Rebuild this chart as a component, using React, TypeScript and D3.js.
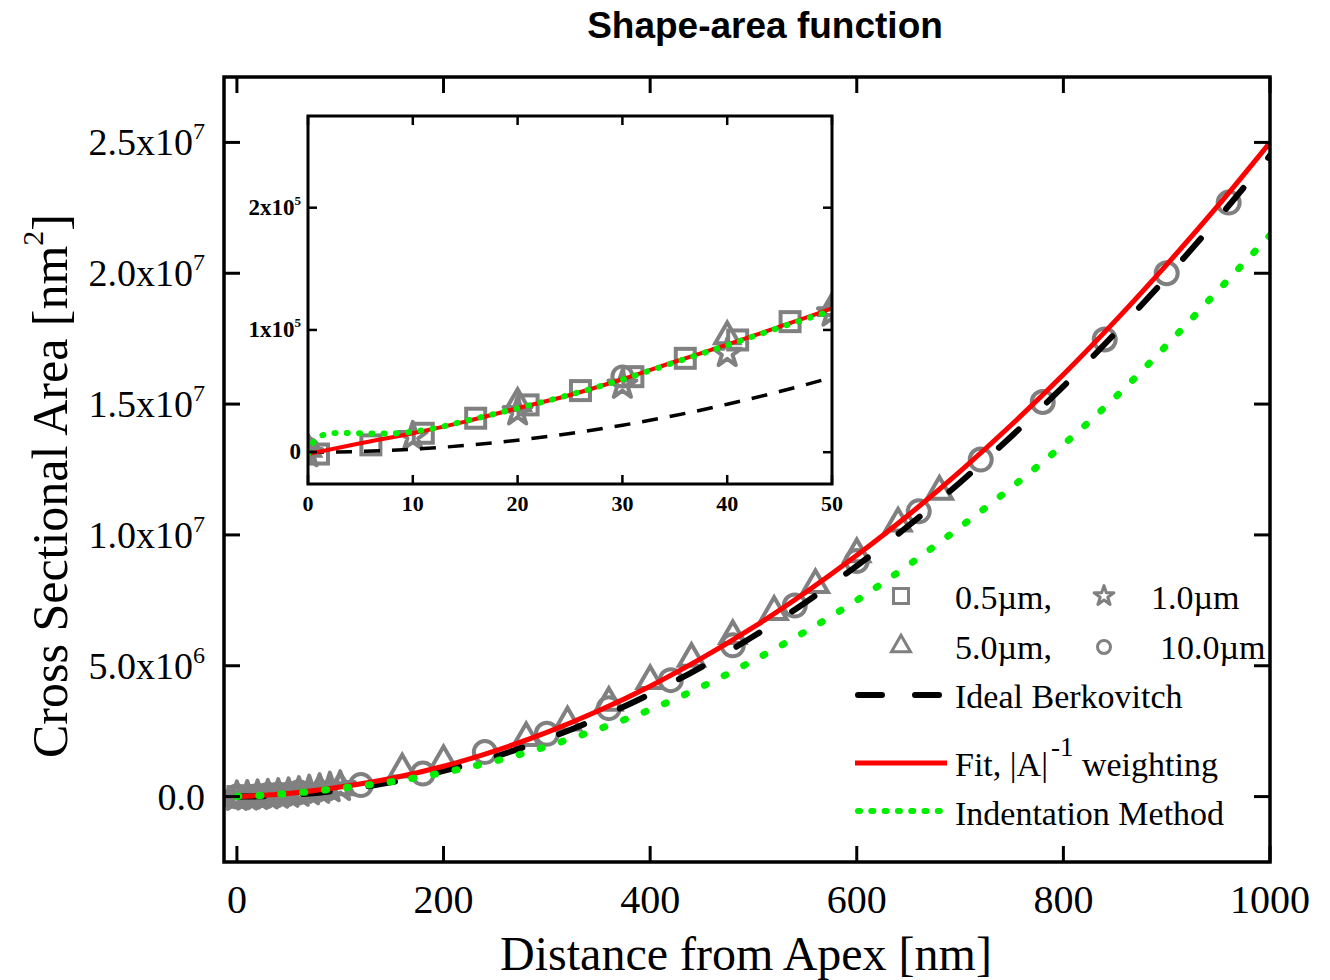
import React from "react";
import * as d3 from "d3";

// ---------- data (h in nm, A in nm^2) ----------
const berkH = [0, 5, 10, 15, 20, 25, 30, 35, 40, 45, 50, 100, 150, 200, 250, 300, 350, 400, 450, 500, 550, 600, 650, 700, 750, 800, 850, 900, 950, 1000];
const berkA = [0, 612, 2450, 5512, 9800, 15312, 22050, 30012, 39200, 49612, 61250, 245000, 551250, 980000, 1531250, 2205000, 3001250, 3920000, 4961250, 6125000, 7411250, 8820000, 10351250, 12005000, 13781250, 15680000, 17701250, 19845000, 22111250, 24500000];

const fitH = [0, 5, 10, 15, 20, 25, 30, 35, 40, 45, 50, 100, 150, 200, 250, 300, 350, 400, 450, 500, 550, 600, 650, 700, 750, 800, 850, 900, 950, 1000];
const fitA = [-1400, 7300, 15500, 25000, 36000, 46800, 59700, 74000, 88000, 102700, 117700, 365000, 700000, 1160000, 1750000, 2455000, 3280000, 4220000, 5290000, 6475000, 7790000, 9220000, 10760000, 12430000, 14220000, 16130000, 18170000, 20330000, 22600000, 25000000];

const indH = [0, 0.5, 1, 2, 3, 5, 7, 9, 10, 12, 15, 20, 25, 30, 35, 40, 45, 50, 100, 150, 200, 250, 300, 350, 400, 450, 500, 550, 600, 650, 700, 750, 800, 850, 900, 950, 1000];
const indA = [-1500, 8000, 12500, 15000, 15800, 15500, 15200, 15800, 16800, 19500, 25500, 36000, 47000, 59500, 73500, 87500, 102000, 116000, 320000, 570000, 920000, 1360000, 1920000, 2580000, 3320000, 4200000, 5200000, 6300000, 7500000, 8850000, 10300000, 11820000, 13450000, 15250000, 17250000, 19350000, 21450000];

const sqH = [1, 6, 11, 16, 21, 26, 31, 36, 41, 46];
const sqA = [-1500, 6000, 15500, 27800, 38700, 50400, 61800, 76800, 91800, 106800];
const starH = [0, 10, 20, 30, 40, 50, 60, 70, 80, 90, 100];
const starA = [-1000, 12800, 33200, 55000, 81000, 114000, 160000, 215000, 270000, 330000, 380000];
const triH = [0, 20, 40, 50, 80, 100, 160, 200, 280, 320, 360, 400, 440, 480, 520, 560, 600, 640, 680];
const triA = [4000, 41400, 96000, 119000, 290000, 420000, 1100000, 1420000, 2300000, 2900000, 3650000, 4480000, 5330000, 6200000, 7120000, 8150000, 9330000, 10500000, 11720000];
const circH = [0, 30, 60, 120, 180, 240, 300, 360, 420, 480, 540, 600, 660, 720, 780, 840, 900, 960];
const circA = [3000, 62000, 170000, 440000, 880000, 1700000, 2400000, 3380000, 4450000, 5780000, 7300000, 9000000, 10900000, 12880000, 15080000, 17470000, 20000000, 22700000];

const xTicks = [0, 200, 400, 600, 800, 1000];
const yTicks = [0, 5e6, 1e7, 1.5e7, 2e7, 2.5e7];
const yTickMant = ["0.0", "5.0x10", "1.0x10", "1.5x10", "2.0x10", "2.5x10"];
const yTickExp = ["", "6", "7", "7", "7", "7"];
const insetXTicks = [0, 10, 20, 30, 40, 50];
const insetYTicks = [0, 1e5, 2e5];
const insetYMant = ["0", "1x10", "2x10"];
const insetYExp = ["", "5", "5"];

const GRAY = "#808080";
const SERIF = "'Liberation Serif', 'Times New Roman', serif";
const SANS = "'Liberation Sans', Arial, sans-serif";

type Kind = "square" | "star" | "triangle" | "circle";

function Marker({ kind, x, y, s, sw }: { kind: Kind; x: number; y: number; s: number; sw: number }) {
  const common = { fill: "none", stroke: GRAY, strokeWidth: sw };
  if (kind === "square") return <rect x={x - s / 2} y={y - s / 2} width={s} height={s} {...common} />;
  if (kind === "circle") return <circle cx={x} cy={y} r={s / 2} {...common} />;
  if (kind === "triangle") {
    const d = d3.symbol().type(d3.symbolTriangle).size((s * s * Math.sqrt(3)) / 4)() as string;
    return <path d={d} transform={`translate(${x},${y + s * 0.06})`} {...common} strokeLinejoin="miter" />;
  }
  const d = d3.symbol().type(d3.symbolStar).size(s * s * 0.42)() as string;
  return <path d={d} transform={`translate(${x},${y})`} {...common} strokeLinejoin="round" />;
}

export default function App() {
  const mx = d3.scaleLinear().domain([-12.5, 1000]).range([224, 1270]);
  const my = d3.scaleLinear().domain([-2.5e6, 2.75e7]).range([862, 77]);
  const ix = d3.scaleLinear().domain([0, 50]).range([308, 832]);
  const iy = d3.scaleLinear().domain([-0.26e5, 2.75e5]).range([484, 116]);

  const mkLine = (sx: any, sy: any, H: number[], A: number[]) =>
    d3.line<number>().x((_, i) => sx(H[i])).y((_, i) => sy(A[i])).curve(d3.curveMonotoneX)(H) as string;

  const series: { kind: Kind; H: number[]; A: number[] }[] = [
    { kind: "square", H: sqH, A: sqA },
    { kind: "star", H: starH, A: starA },
    { kind: "triangle", H: triH, A: triA },
    { kind: "circle", H: circH, A: circA },
  ];

  const [mL, mR] = mx.range();
  const [mB, mT] = my.range();
  const [iL, iR] = ix.range();
  const [iB, iT] = iy.range();

  return (
    <svg width={1330} height={980} style={{ position: "absolute", left: 0, top: 0, background: "#fff" }}>
      <defs>
        <clipPath id="mainClip">
          <rect x={mL} y={mT} width={mR - mL} height={mB - mT} />
        </clipPath>
        <clipPath id="insetClip">
          <rect x={iL} y={iT} width={iR - iL} height={iB - iT} />
        </clipPath>
      </defs>
      <rect x={0} y={0} width={1330} height={980} fill="#fff" />

      {/* title */}
      <text x={765} y={38} textAnchor="middle" fontFamily={SANS} fontWeight="bold" fontSize={37}>
        Shape-area function
      </text>

      {/* main plot content */}
      <g clipPath="url(#mainClip)">
        {series.map((s) =>
          s.H.map((h, i) => <Marker key={s.kind + i} kind={s.kind} x={mx(h)} y={my(s.A[i])} s={s.kind === "circle" ? 22 : s.kind === "square" ? 19 : 25} sw={4} />)
        )}
        <path d={mkLine(mx, my, berkH, berkA)} fill="none" stroke="#000" strokeWidth={6} strokeDasharray="27,39" strokeLinecap="round" />
        <path d={mkLine(mx, my, fitH, fitA)} fill="none" stroke="#ff0000" strokeWidth={5} />
        <path d={mkLine(mx, my, indH, indA)} fill="none" stroke="#00ee00" strokeWidth={7} strokeDasharray="2,20" strokeLinecap="round" />
      </g>

      {/* main frame & ticks */}
      <rect x={mL} y={mT} width={mR - mL} height={mB - mT} fill="none" stroke="#000" strokeWidth={3.5} />
      {xTicks.map((t) => (
        <g key={"xt" + t}>
          <line x1={mx(t)} x2={mx(t)} y1={mB} y2={mB - 16} stroke="#000" strokeWidth={3} />
          <line x1={mx(t)} x2={mx(t)} y1={mT} y2={mT + 16} stroke="#000" strokeWidth={3} />
          <text x={mx(t)} y={913} textAnchor="middle" fontFamily={SERIF} fontSize={40}>
            {t}
          </text>
        </g>
      ))}
      {yTicks.map((t, i) => (
        <g key={"yt" + t}>
          <line x1={mL} x2={mL + 16} y1={my(t)} y2={my(t)} stroke="#000" strokeWidth={3} />
          <line x1={mR} x2={mR - 16} y1={my(t)} y2={my(t)} stroke="#000" strokeWidth={3} />
          <text x={205} y={my(t) + 13} textAnchor="end" fontFamily={SERIF} fontSize={38}>
            {yTickMant[i]}
            {yTickExp[i] && (
              <tspan fontSize={24} dy={-16}>
                {yTickExp[i]}
              </tspan>
            )}
          </text>
        </g>
      ))}

      {/* axis titles */}
      <text x={746} y={970} textAnchor="middle" fontFamily={SERIF} fontSize={48}>
        Distance from Apex [nm]
      </text>
      <text transform="translate(67,486) rotate(-90)" textAnchor="middle" fontFamily={SERIF} fontSize={50}>
        Cross Sectional Area [nm
        <tspan fontSize={30} dy={-24}>2</tspan>
        <tspan dy={24}>]</tspan>
      </text>

      {/* inset */}
      <rect x={iL} y={iT} width={iR - iL} height={iB - iT} fill="#fff" />
      <g clipPath="url(#insetClip)">
        {series.map((s) =>
          s.H.map((h, i) => <Marker key={"i" + s.kind + i} kind={s.kind} x={ix(h)} y={iy(s.A[i])} s={s.kind === "circle" ? 20 : s.kind === "square" ? 19 : 24} sw={4} />)
        )}
        <path d={mkLine(ix, iy, berkH, berkA)} fill="none" stroke="#000" strokeWidth={3.5} strokeDasharray="16,12" />
        <path d={mkLine(ix, iy, fitH, fitA)} fill="none" stroke="#ff0000" strokeWidth={4} />
        <path d={mkLine(ix, iy, indH, indA)} fill="none" stroke="#00ee00" strokeWidth={6} strokeDasharray="1,11.3" strokeLinecap="round" />
      </g>
      <rect x={iL} y={iT} width={iR - iL} height={iB - iT} fill="none" stroke="#000" strokeWidth={3} />
      {insetXTicks.map((t) => (
        <g key={"ixt" + t}>
          <line x1={ix(t)} x2={ix(t)} y1={iB} y2={iB - 9} stroke="#000" strokeWidth={2.5} />
          <line x1={ix(t)} x2={ix(t)} y1={iT} y2={iT + 9} stroke="#000" strokeWidth={2.5} />
          <text x={ix(t)} y={511} textAnchor="middle" fontFamily={SERIF} fontWeight="bold" fontSize={22}>
            {t}
          </text>
        </g>
      ))}
      {insetYTicks.map((t, i) => (
        <g key={"iyt" + t}>
          <line x1={iL} x2={iL + 9} y1={iy(t)} y2={iy(t)} stroke="#000" strokeWidth={2.5} />
          <line x1={iR} x2={iR - 9} y1={iy(t)} y2={iy(t)} stroke="#000" strokeWidth={2.5} />
          <text x={301} y={iy(t) + 7} textAnchor="end" fontFamily={SERIF} fontWeight="bold" fontSize={23}>
            {insetYMant[i]}
            {insetYExp[i] && (
              <tspan fontSize={13} dy={-10}>
                {insetYExp[i]}
              </tspan>
            )}
          </text>
        </g>
      ))}

      {/* legend */}
      <g fontFamily={SERIF} fontSize={34}>
        <Marker kind="square" x={901} y={596} s={15} sw={3} />
        <text x={955} y={609}>0.5µm,</text>
        <Marker kind="star" x={1104} y={596} s={17} sw={3} />
        <text x={1151} y={609}>1.0µm</text>
        <Marker kind="triangle" x={901} y={645} s={19} sw={3} />
        <text x={955} y={659}>5.0µm,</text>
        <Marker kind="circle" x={1104} y={647} s={13} sw={3} />
        <text x={1160} y={659}>10.0µm</text>

        <line x1={855} x2={942} y1={695} y2={695} stroke="#000" strokeWidth={6} strokeDasharray="24,33" strokeLinecap="round" transform="translate(3,0)" />
        <text x={955} y={708}>Ideal Berkovitch</text>

        <line x1={855} x2={947} y1={763} y2={763} stroke="#ff0000" strokeWidth={5} />
        <text x={955} y={776}>
          Fit, |A|
          <tspan fontSize={27} dy={-20} dx={3}>-1</tspan>
          <tspan dy={20}> weighting</tspan>
        </text>

        <line x1={858} x2={940} y1={811} y2={811} stroke="#00ee00" strokeWidth={6} strokeDasharray="2,11.3" strokeLinecap="round" />
        <text x={955} y={825}>Indentation Method</text>
      </g>
    </svg>
  );
}
